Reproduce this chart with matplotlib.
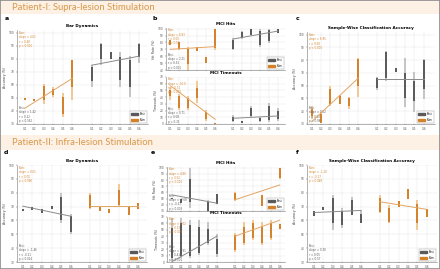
import matplotlib
matplotlib.use("Agg")
import matplotlib.pyplot as plt
from matplotlib.patches import Rectangle, Patch

W, H = 440, 269

ORANGE = "#d4822a"
ORANGE_LIGHT = "#f0c896"
ORANGE_FIT = "#e3a462"
GRAY = "#5a5a5a"
GRAY_LIGHT = "#c4c4c4"
GRAY_FIT = "#8a8a8a"
BAND = "#fcf1e4"
BAND_TEXT = "#d9984c"

# each strip: (low, core_low, core_high, high)
tick_labels = ["0.1", "0.2", "0.3", "0.4", "0.5", "0.6"]
legend_labels = ["Rest", "Stim"]

# --- Patient-I ---
a_or = [(48, 48, 50, 50), (47.5, 47.5, 49.5, 49.5), (45, 48, 59, 61), (51, 52, 57, 58), (35, 38, 51, 54), (48, 58, 79, 79)]
a_gr = [(58, 63, 74, 75), (75, 80, 91, 92), (80, 80, 85, 85), (58, 64, 81, 85), (51, 58, 79, 82), (77, 81, 91, 92)]
a_or_fit = [42, 65]
a_gr_fit = [75, 82]

b1_or = [(77, 77, 84, 84), (69, 70, 80, 80.5), (40, 49, 70, 74), (68, 68, 74, 74), (50, 50, 59, 59), (69, 72, 100, 100)]
b1_gr = [(69, 71, 84, 86.5), (85, 86, 95, 96.5), (91, 91, 100, 100), (74, 77, 97, 99), (79, 82, 98, 100), (94, 94, 100, 100)]
b1_or_fit = [70, 74]
b1_gr_fit = [85, 96.5]

b2_or = [(36, 41, 51, 55), (21, 24, 42, 45), (21, 24, 38, 42), (31, 38, 53, 63.5), (5, 7, 18, 21), (0.5, 0.5, 1.5, 1.5)]
b2_gr = [(3.5, 5, 11, 13.5), (1, 1, 5, 5), (10, 12, 24, 27), (3.5, 4, 9, 11), (3.5, 6, 27, 32), (5, 7, 20, 23.5)]
b2_or_fit = [57, 7]
b2_gr_fit = [8.5, 12]

c_or = [(33.6, 36, 42, 43.9), (30.5, 31, 38, 39.5), (44, 46, 57, 60), (45.5, 46, 52, 53), (42, 44, 50, 51), (51, 60, 81, 82)]
c_gr = [(56.7, 58, 66, 67), (64, 66, 86, 87), (70.4, 71, 73.5, 74), (43.4, 50, 70, 82), (39.5, 48, 64, 70.4), (49.8, 57, 80, 80.7)]
c_or_fit = [31.8, 66]
c_gr_fit = [65, 65]

# --- Patient-II ---
d_gr = [(67, 67, 68, 68), (67.4, 67.4, 70, 70), (65.7, 65.7, 68.6, 68.6), (68, 68, 70.4, 70.4), (58.5, 60, 77, 79.5), (50, 52, 63, 65)]
d_or = [(68, 69, 78, 80), (67, 67, 70, 70), (65.7, 65.7, 68.6, 68.6), (70, 71, 82, 86), (63.8, 64, 70, 70.6), (68, 68, 72.7, 72.7)]
d_gr_fit = [70.3, 63]
d_or_fit = [70.3, 70.3]

e1_gr = [(49, 49, 50.5, 50.5), (43, 43, 48.6, 48.6), (35, 44, 81, 100), (28, 30, 45, 47), (41, 41, 58, 58)]
e1_or = [(46.5, 47, 59, 60), (47, 47, 48, 48), (63.5, 63.5, 64.5, 64.5), (38, 38, 56, 56), (82, 84, 99, 100)]
e1_gr_x = [0, 1, 2, 4, 5]
e1_or_x = [7, 8, 9, 10, 12]
e1_gr_fit = [56, 42.6]
e1_or_fit = [48, 72]

e2_gr = [(1.6, 6, 53, 69), (6, 10, 60, 69), (6, 10, 58, 66), (11, 14, 54, 65), (27, 30, 52, 62.6), (8, 12, 36, 43)]
e2_or = [(16, 18, 42, 45), (27, 30, 55, 62.6), (35, 37, 60, 66), (27, 30, 55, 62.6), (35, 37, 60, 66), (52, 52, 59.5, 59.5)]
e2_gr_fit = [0.5, 40]
e2_or_fit = [40, 65]

f_gr = [(63.3, 63.3, 66.7, 66.7), (67.4, 67.4, 70, 70), (53, 58, 76, 78.3), (54.7, 57, 67, 69), (63.8, 64, 75, 76.6), (57.8, 58, 65, 67.4)]
f_or = [(65.7, 66, 76, 78.3), (58.5, 59, 69, 71), (70, 70, 74, 74), (75.4, 75.4, 83, 83), (53, 58, 72, 74.7), (62.6, 62.6, 68, 68)]
f_gr_fit = [65.7, 67.2]
f_or_fit = [73.5, 68]

fig = plt.figure(figsize=(W / 100, H / 100), dpi=100)
plt.rcParams["font.family"] = ["DejaVu Sans"]


def px_axes(x0, y0, x1, y1):
    return fig.add_axes([x0 / W, 1 - y1 / H, (x1 - x0) / W, (y1 - y0) / H])


def style(ax, xlim, ylim, yticks, ylabel, title=None, show_x=True):
    ax.set_xlim(*xlim)
    ax.set_ylim(*ylim)
    ax.set_yticks(yticks)
    ax.tick_params(labelsize=2.1, length=1, width=0.3, pad=1, colors="#555555")
    for s in ["top", "right"]:
        ax.spines[s].set_visible(False)
    for s in ["left", "bottom"]:
        ax.spines[s].set_linewidth(0.4)
        ax.spines[s].set_color("#777777")
    ax.grid(True, linestyle=":", linewidth=0.3, color="#bbbbbb")
    ax.set_axisbelow(True)
    ax.set_ylabel(ylabel, fontsize=2.3, labelpad=1, color="#444444")
    if title:
        ax.set_title(title, fontsize=3, fontweight="bold", pad=2)
    pos = list(range(6)) + list(range(7, 13))
    ax.set_xticks(pos)
    ax.set_xticklabels(tick_labels * 2 if show_x else [""] * 12)


def strips(ax, xs, data, dark, light):
    for x, (lo, clo, chi, hi) in zip(xs, data):
        ax.plot([x, x], [lo, hi], color=light, lw=1.4, solid_capstyle="butt", zorder=2)
        ax.plot([x, x], [clo, chi], color=dark, lw=1.4, solid_capstyle="butt", zorder=3)


def fit(ax, xs, ends, color):
    ax.plot([xs[0], xs[-1]], ends, color=color, lw=0.7, zorder=4)


def stats(ax, txt, color, top=True):
    if top:
        ax.text(0.015, 0.99, txt, transform=ax.transAxes, fontsize=1.9, color=color,
                va="top", ha="left", linespacing=1.1)
    else:
        ax.text(0.015, 0.01, txt, transform=ax.transAxes, fontsize=1.9, color=color,
                va="bottom", ha="left", linespacing=1.1)


def legend(ax):
    handles = [Patch(color=GRAY, label=legend_labels[0]), Patch(color=ORANGE, label=legend_labels[1])]
    ax.legend(handles=handles, loc="lower right", fontsize=1.9, handlelength=2.6,
              handleheight=0.9, borderpad=0.4, framealpha=1, edgecolor="#999999",
              fancybox=False).get_frame().set_linewidth(0.3)


L = list(range(6))
R = list(range(7, 13))

# background bands
for (y0, y1, txt) in [(0, 14, "Patient-I: Supra-lesion Stimulation"),
                      (135, 150, "Patient-II: Infra-lesion Stimulation")]:
    fig.patches.append(Rectangle((0, 1 - y1 / H), 1, (y1 - y0) / H, transform=fig.transFigure,
                                 facecolor=BAND, edgecolor="none", zorder=0))
    fig.text(12 / W, 1 - (y0 + y1) / 2 / H, txt, fontsize=6.8, color=BAND_TEXT,
             family=["Lato", "DejaVu Sans"], va="center", ha="left")

for lab, x, y in [("a", 5, 18), ("b", 152, 18), ("c", 296, 18),
                  ("d", 4, 152), ("e", 151, 152), ("f", 296, 152)]:
    fig.text(x / W, 1 - y / H, lab, fontsize=4.5, fontweight="bold", va="center", ha="left")

acc_ticks = [30, 40, 50, 60, 70, 80, 90, 100]

# a
ax = px_axes(17, 30, 148, 124)
style(ax, (-0.8, 12.9), (30, 102), acc_ticks, "Accuracy (%)", "Bar Dynamics")
strips(ax, L, a_or, ORANGE, ORANGE_LIGHT)
strips(ax, R, a_gr, GRAY, GRAY_LIGHT)
fit(ax, L, a_or_fit, ORANGE_FIT)
fit(ax, R, a_gr_fit, GRAY_FIT)
stats(ax, "Stim:\nslope = 4.61\nr = 0.48\np < 0.001", ORANGE)
stats(ax, "Rest:\nslope = 1.42\nr = 0.12\np = 0.162", GRAY, top=False)
legend(ax)

# b top
ax = px_axes(166, 28, 285, 70)
style(ax, (-0.5, 12.8), (40, 101), [40, 50, 60, 70, 80, 90, 100], "Hit Rate (%)", "MCI Hits", show_x=False)
strips(ax, L, b1_or, ORANGE, ORANGE_LIGHT)
strips(ax, R, b1_gr, GRAY, GRAY_LIGHT)
fit(ax, L, b1_or_fit, ORANGE_FIT)
fit(ax, R, b1_gr_fit, GRAY_FIT)
stats(ax, "Stim:\nslope = 0.83\nr = 0.05\np = 0.54", ORANGE)
stats(ax, "Rest:\nslope = 2.21\nr = 0.31\np < 0.001", GRAY, top=False)
legend(ax)

# b bottom
ax = px_axes(166, 77, 285, 124)
style(ax, (-0.5, 12.8), (0, 70), [0, 10, 20, 30, 40, 50, 60, 70], "Timeouts (%)", "MCI Timeouts")
strips(ax, L, b2_or, ORANGE, ORANGE_LIGHT)
strips(ax, R, b2_gr, GRAY, GRAY_LIGHT)
fit(ax, L, b2_or_fit, ORANGE_FIT)
fit(ax, R, b2_gr_fit, GRAY_FIT)
stats(ax, "Stim:\nslope = -10.0\nr = -0.71\np < 0.001", ORANGE)
stats(ax, "Rest:\nslope = 0.71\nr = 0.08\np = 0.31", GRAY, top=False)

# c
ax = px_axes(307, 32, 435, 124)
style(ax, (-0.5, 13.2), (30, 102), acc_ticks, "Accuracy (%)", "Sample-Wise Classification Accuracy")
strips(ax, L, c_or, ORANGE, ORANGE_LIGHT)
strips(ax, R, c_gr, GRAY, GRAY_LIGHT)
fit(ax, L, c_or_fit, ORANGE_FIT)
fit(ax, R, c_gr_fit, GRAY_FIT)
stats(ax, "Stim:\nslope = 6.85\nr = 0.69\np < 0.001", ORANGE)
stats(ax, "Rest:\nslope = 0.02\nr = 0.00\np = 0.98", GRAY, top=False)
legend(ax)

# d
ax = px_axes(17, 165, 147, 262)
style(ax, (-0.6, 12.9), (30, 100), acc_ticks, "Accuracy (%)", "Bar Dynamics")
strips(ax, L, d_gr, GRAY, GRAY_LIGHT)
strips(ax, R, d_or, ORANGE, ORANGE_LIGHT)
fit(ax, L, d_gr_fit, GRAY_FIT)
fit(ax, R, d_or_fit, ORANGE_FIT)
stats(ax, "Stim:\nslope = 0.01\nr = 0.00\np = 0.996", ORANGE)
stats(ax, "Rest:\nslope = -1.46\nr = -0.21\np = 0.014", GRAY, top=False)
legend(ax)

# e top
ax = px_axes(167, 167, 285, 211)
style(ax, (-0.55, 12.6), (30, 101), acc_ticks, "Hit Rate (%)", "MCI Hits", show_x=False)
strips(ax, e1_gr_x, e1_gr, GRAY, GRAY_LIGHT)
strips(ax, e1_or_x, e1_or, ORANGE, ORANGE_LIGHT)
fit(ax, L, e1_gr_fit, GRAY_FIT)
fit(ax, R, e1_or_fit, ORANGE_FIT)
stats(ax, "Stim:\nslope = 4.80\nr = 0.52\np < 0.001", ORANGE)
stats(ax, "Rest:\nslope = -2.68\nr = -0.27\np = 0.003", GRAY, top=False)
legend(ax)

# e bottom
ax = px_axes(167, 217, 285, 262)
style(ax, (-0.55, 12.6), (0, 70), [0, 10, 20, 30, 40, 50, 60, 70], "Timeouts (%)", "MCI Timeouts")
strips(ax, L, e2_gr, GRAY, GRAY_LIGHT)
strips(ax, R, e2_or, ORANGE, ORANGE_LIGHT)
fit(ax, L, e2_gr_fit, GRAY_FIT)
fit(ax, R, e2_or_fit, ORANGE_FIT)
stats(ax, "Stim:\nslope = 5.02\nr = 0.33\np < 0.001", ORANGE)
stats(ax, "Rest:\nslope = 7.91\nr = 0.41\np < 0.001", GRAY, top=False)

# f
ax = px_axes(307, 165, 437, 262)
style(ax, (-0.75, 13.1), (30, 100), acc_ticks, "Accuracy (%)", "Sample-Wise Classification Accuracy")
strips(ax, L, f_gr, GRAY, GRAY_LIGHT)
strips(ax, R, f_or, ORANGE, ORANGE_LIGHT)
fit(ax, L, f_gr_fit, GRAY_FIT)
fit(ax, R, f_or_fit, ORANGE_FIT)
stats(ax, "Stim:\nslope = -1.10\nr = -0.17\np = 0.048", ORANGE)
stats(ax, "Rest:\nslope = 0.30\nr = 0.05\np = 0.57", GRAY, top=False)
legend(ax)

# outer frame
fig.patches.append(Rectangle((0, 0), 1, 1, transform=fig.transFigure, facecolor="none",
                             edgecolor="#8c8c8c", linewidth=1.2, zorder=10))

fig.savefig("out.png", dpi=100)
